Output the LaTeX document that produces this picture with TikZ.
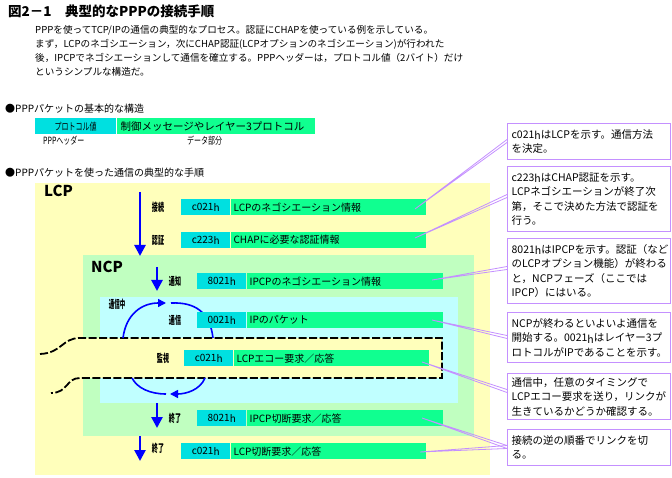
\documentclass[tikz,border=0pt]{standalone}
\usepackage{fontspec}
\setmainfont{Noto Sans CJK JP}
\usepackage{graphicx}
\usetikzlibrary{arrows.meta, calc}

\definecolor{lcpyellow}{RGB}{255,255,187}
\definecolor{ncpgreen}{RGB}{192,255,192}
\definecolor{ipcyan}{RGB}{192,255,255}
\definecolor{hdrcyan}{RGB}{0,224,224}
\definecolor{datgreen}{RGB}{16,255,144}
\definecolor{lav}{RGB}{196,144,255}
\definecolor{flowblue}{RGB}{0,0,255}

\newcommand{\sq}[2][0.55]{\scalebox{#1}[1]{#2}}
\newcommand{\hx}{\raisebox{-1.5pt}{h}}

\tikzset{
  hdr/.style={fill=hdrcyan, minimum width=49, minimum height=16, inner sep=0pt,
    anchor=north west, font=\fontsize{10}{10}\selectfont},
  dat/.style={fill=datgreen, minimum height=16, inner ysep=0pt, inner xsep=3pt,
    anchor=west, text width=#1, align=left, font=\fontsize{10}{10}\selectfont},
  tag/.style={inner sep=0pt, font=\fontsize{11}{11}\bfseries\selectfont},
  flow/.style={draw=flowblue, line width=2.6pt, -{Triangle[width=11pt,length=11pt]}},
  looparc/.style={draw=flowblue, line width=1.6pt},
  loophead/.style={looparc, -{Triangle[width=8pt,length=8pt]}},
  echo/.style={draw=black, line width=1.8pt, dash pattern=on 8pt off 2.5pt},
  note/.style={draw=lav, line width=1.2pt, fill=white, anchor=north west,
    text width=155, inner xsep=4pt, inner ysep=3pt, align=left,
    font=\fontsize{10.5}{14.5}\selectfont, minimum height=#1},
  ldr/.style={draw=lav, line width=0.8pt},
  phase/.style={inner sep=0pt, anchor=west, font=\fontsize{15}{15}\bfseries\selectfont},
  bullet/.style={inner sep=0pt, anchor=west, font=\fontsize{10}{10}\selectfont}
}

\begin{document}
\begin{tikzpicture}[x=1pt, y=-1pt]
\useasboundingbox (0,0) rectangle (672,478);

% title and lead text
\node[inner sep=0pt, anchor=west, font=\fontsize{13.5}{13.5}\bfseries\selectfont] (title) at (8,11)
  {図2－1\hspace{1em}典型的なPPPの接続手順};
\node[inner sep=0pt, anchor=north west, align=left, font=\fontsize{9.6}{14}\selectfont] (lead) at (35,25)
  {PPPを使ってTCP/IPの通信の典型的なプロセス。認証にCHAPを使っている例を示している。\\
   まず，LCPのネゴシエーション，次にCHAP認証(LCPオプションのネゴシエーション)が行われた\\
   後，IPCPでネゴシエーションして通信を確立する。PPPヘッダーは，プロトコル値（2バイト）だけ\\
   というシンプルな構造だ。};

% packet structure
\node[bullet] (b1) at (5,109) {●PPPパケットの基本的な構造};
\node[hdr, minimum width=81, minimum height=16] (pkthdr) at (35,118) {\sq[0.7]{プロトコル値}};
\node[dat=190, font=\fontsize{10.5}{10}\selectfont, inner xsep=4pt] (pktdat) at (pkthdr.east) {制御メッセージやレイヤー3プロトコル};
\node[tag, font=\fontsize{10}{10}\selectfont, anchor=west] (hdrlbl) at (43,141) {\sq[0.7]{PPPヘッダー}};
\node[tag, font=\fontsize{10}{10}\selectfont, anchor=west] (datlbl) at (187,141) {\sq[0.7]{データ部分}};

\node[bullet] (b2) at (5,173) {●PPPパケットを使った通信の典型的な手順};

% phases
\fill[lcpyellow] (35,183) rectangle (490,475);
\fill[ncpgreen] (83,255) rectangle (474,436);
\fill[ipcyan] (100,297) rectangle (458,403);
\node[phase] (lcp) at (44,191) {LCP};
\node[phase] (ncp) at (91,267) {NCP};

% echo region
\fill[lcpyellow] (80,338) rectangle (442,378);
\coordinate (tailT) at (40,354);
\coordinate (tailB) at (51,393);
\draw[echo] (tailT) .. controls (62,353) and (62,338) .. (80,338) -- (442,338)
  -- (442,378) -- (80,378) .. controls (66,378) and (68,393) .. (tailB);

% loop during communication
\coordinate (lpA) at (123,338);
\coordinate (lpB) at (166,303);
\coordinate (lpC) at (171,303);
\coordinate (lpD) at (213,338);
\coordinate (lpE) at (205,378);
\coordinate (lpF) at (170,394);
\coordinate (lpG) at (166,394);
\coordinate (lpH) at (132,378);
\draw[loophead] (lpA) .. controls (126,314) and (142,303) .. (lpB);
\draw[looparc] (lpC) .. controls (195,302) and (210,312) .. (lpD);
\draw[loophead] (lpE) .. controls (200,390) and (186,394) .. (lpF);
\draw[looparc] (lpG) .. controls (150,394) and (137,388) .. (lpH);
\node[tag] (tagloop) at (117,304) {\sq[0.5]{通信中}};

% frames
\node[hdr] (h1) at (181,199) {c021\hx};
\node[dat=189] (d1) at (h1.east) {LCPのネゴシエーション情報};
\node[tag] (t1) at (158,207) {\sq{接続}};

\node[hdr] (h2) at (181,232) {c223\hx};
\node[dat=189] (d2) at (h2.east) {CHAPに必要な認証情報};
\node[tag] (t2) at (158,240) {\sq{認証}};

\node[hdr] (h3) at (197,273) {8021\hx};
\node[dat=190] (d3) at (h3.east) {IPCPのネゴシエーション情報};
\node[tag] (t3) at (175,281) {\sq{通知}};

\node[hdr] (h4) at (197,312) {0021\hx};
\node[dat=190] (d4) at (h4.east) {IPのパケット};
\node[tag] (t4) at (175,320) {\sq{通信}};

\node[hdr] (h5) at (184,350) {c021\hx};
\node[dat=189] (d5) at (h5.east) {LCPエコー要求／応答};
\node[tag] (t5) at (163,358) {\sq{監視}};

\node[hdr] (h6) at (197,410) {8021\hx};
\node[dat=190] (d6) at (h6.east) {IPCP切断要求／応答};
\node[tag] (t6) at (175,418) {\sq{終了}};

\node[hdr] (h7) at (181,443) {c021\hx};
\node[dat=189] (d7) at (h7.east) {LCP切断要求／応答};
\node[tag] (t7) at (158,448) {\sq{終了}};

% flow arrows
\coordinate (f1s) at (140,192);
\coordinate (f1e) at (140,256);
\coordinate (f2s) at (157,267);
\coordinate (f2e) at (157,291);
\coordinate (f3s) at (157,403);
\coordinate (f3e) at (157,428);
\coordinate (f4s) at (140,436);
\coordinate (f4e) at (140,461);
\draw[flow] (f1s) -- (f1e);
\draw[flow] (f2s) -- (f2e);
\draw[flow] (f3s) -- (f3e);
\draw[flow] (f4s) -- (f4e);

% notes
\node[note=36] (n1) at (507,123) {c021\hx はLCPを示す。通信方法\\を決定。};
\node[note=65] (n2) at (507,166) {c223\hx はCHAP認証を示す。\\LCPネゴシエーションが終了次\\第，そこで決めた方法で認証を\\行う。};
\node[note=65] (n3) at (507,238) {8021\hx はIPCPを示す。認証（など\\のLCPオプション機能）が終わる\\と，NCPフェーズ（ここでは\\IPCP）にはいる。};
\node[note=50] (n4) at (507,312) {NCPが終わるといよいよ通信を\\開始する。0021\hx はレイヤー3プ\\ロトコルがIPであることを示す。};
\node[note=46] (n5) at (507,373) {通信中，任意のタイミングで\\LCPエコー要求を送り，リンクが\\生きているかどうか確認する。};
\node[note=36] (n6) at (507,429) {接続の逆の順番でリンクを切\\る。};

% leaders
\coordinate (s1) at (415,209);
\coordinate (s2) at (415,238);
\coordinate (s3) at (432,280);
\coordinate (s4) at (432,320);
\coordinate (s5) at (422,362);
\coordinate (s6) at (422,418);
\coordinate (s7) at (420,452);
\foreach \s/\t in {s1/141, s2/196, s3/268, s4/337, s5/391, s6/447, s7/447} {
  \draw[ldr] (\s) -- (507,\t-1.5) (\s) -- (507,\t+1.5);
}
\end{tikzpicture}
\end{document}
